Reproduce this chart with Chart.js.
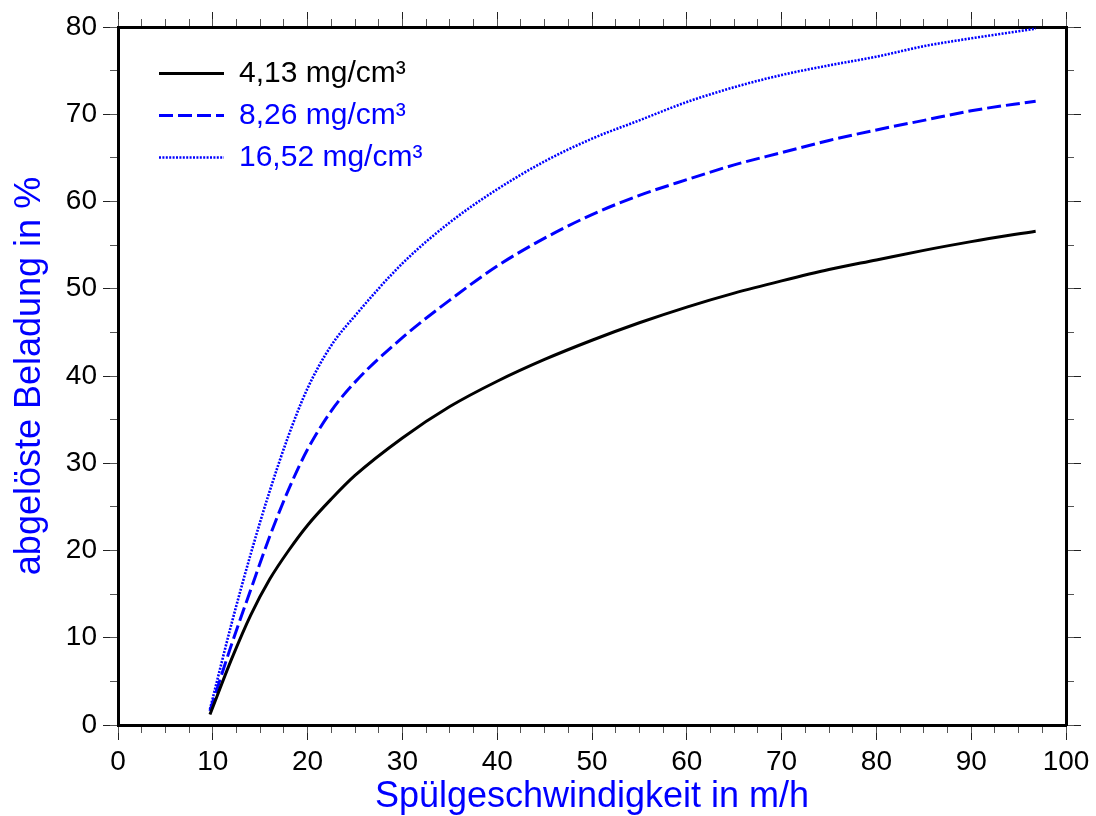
<!DOCTYPE html>
<html>
<head>
<meta charset="utf-8">
<script src="https://cdn.jsdelivr.net/npm/chart.js@4.4.1/dist/chart.umd.min.js"></script>
<style>
  body { margin: 0; background: #fff; }
  canvas { display: block; }
</style>
</head>
<body>
<canvas id="chart" width="1096" height="816"></canvas>
<script>
// values
const speeds   = [9.7, 12, 14, 16, 18, 20, 22.5, 25, 30, 35, 40, 45, 50, 55, 60, 65, 70, 75, 80, 85, 90, 96.8];
const load413  = [1.2, 7.6, 12.6, 16.7, 20.0, 22.9, 25.9, 28.6, 32.9, 36.5, 39.4, 41.9, 44.1, 46.1, 47.9, 49.5, 50.9, 52.2, 53.3, 54.4, 55.4, 56.6];
const load826  = [1.6, 9.3, 15.5, 21.6, 27.0, 31.6, 36.0, 39.3, 44.4, 48.7, 52.6, 55.8, 58.5, 60.7, 62.5, 64.2, 65.6, 67.0, 68.2, 69.3, 70.4, 71.5];
const load1652 = [1.8, 11.7, 19.6, 26.8, 33.2, 38.6, 43.5, 46.9, 52.9, 57.6, 61.4, 64.6, 67.2, 69.3, 71.4, 73.1, 74.5, 75.6, 76.6, 77.8, 78.7, 79.8];
const seriesLabels = ["4,13 mg/cm³", "8,26 mg/cm³", "16,52 mg/cm³"];
const xTitle = "Spülgeschwindigkeit in m/h";
const yTitle = "abgelöste Beladung in %";

const blue = "#0000ff";
const family = "'Liberation Sans', Arial, sans-serif";
const legendSize = 30;

function points(ys) {
  return speeds.map((x, i) => ({ x: x, y: ys[i] }));
}

// one side of the frame; minor axes get zero size so they sit on the chart edge
function frameAxis(position, max, step, tickLength, size, weight, extra) {
  const horizontal = position === "top" || position === "bottom";
  return Object.assign({
    type: "linear",
    position: position,
    min: 0,
    max: max,
    weight: weight,
    afterFit: s => { if (horizontal) s.height = size; else s.width = size; },
    grid: { drawOnChartArea: false, drawTicks: true, tickLength: tickLength, tickColor: weight ? "#222" : "#555", tickWidth: 1 },
    border: { display: weight > 0, color: "#000", width: 3 },
    ticks: { display: false, stepSize: step, maxTicksLimit: 100, autoSkip: false }
  }, extra || {});
}

// put the legend inside the plot, top left
const legendSpot = {
  id: "legendSpot",
  afterLayout(chart) {
    const lg = chart.legend, area = chart.chartArea;
    const pad = lg.options.labels.padding;
    lg.left = area.left + 41 - pad;
    lg.top = area.top + 46.5 - legendSize / 2 - pad;
    lg.right = lg.left + lg.width;
    lg.bottom = lg.top + lg.height;
  }
};

const tickFont = { family: family, size: 28 };
const titleFont = { family: family, size: 36 };

new Chart(document.getElementById("chart"), {
  type: "line",
  data: {
    datasets: [
      { label: seriesLabels[0], data: points(load413), borderColor: "#000000", borderWidth: 3 },
      { label: seriesLabels[1], data: points(load826), borderColor: blue, borderWidth: 3, borderDash: [14, 5] },
      { label: seriesLabels[2], data: points(load1652), borderColor: blue, borderWidth: 2.6, borderDash: [2, 1.4] }
    ]
  },
  options: {
    responsive: false,
    animation: false,
    devicePixelRatio: 1,
    layout: { padding: 0 },
    elements: {
      point: { radius: 0 },
      line: { cubicInterpolationMode: "monotone", fill: false }
    },
    scales: {
      x: frameAxis("bottom", 100, 10, 15, 91, 1, {
        ticks: { display: true, stepSize: 10, padding: 5, color: "#000", font: tickFont, autoSkip: false, maxRotation: 0 },
        title: { display: true, text: xTitle, color: blue, font: titleFont, padding: { top: 0, bottom: -3 } }
      }),
      xMinor: frameAxis("bottom", 100, 2.5, 8, 0, 0),
      xTop: frameAxis("top", 100, 10, 15, 27, 1),
      xTopMinor: frameAxis("top", 100, 2.5, 8, 0, 0),
      y: frameAxis("left", 80, 10, 15, 118, 1, {
        ticks: { display: true, stepSize: 10, padding: 6, color: "#000", font: tickFont, autoSkip: false },
        title: { display: true, text: yTitle, color: blue, font: titleFont, padding: { top: 8, bottom: 0 } }
      }),
      yMinor: frameAxis("left", 80, 5, 8, 0, 0),
      yRight: frameAxis("right", 80, 10, 15, 30, 1),
      yRightMinor: frameAxis("right", 80, 5, 8, 0, 0)
    },
    plugins: {
      tooltip: { enabled: false },
      legend: {
        position: "chartArea",
        align: "start",
        labels: {
          font: { family: family, size: legendSize },
          padding: 12,
          usePointStyle: true,
          pointStyleWidth: 65,
          generateLabels: chart => chart.data.datasets.map((ds, i) => ({
            text: ds.label,
            fontColor: ds.borderColor,
            fillStyle: ds.borderColor,
            strokeStyle: ds.borderColor,
            lineWidth: ds.borderWidth,
            lineDash: ds.borderDash || [],
            lineCap: "butt",
            pointStyle: "line",
            hidden: false,
            datasetIndex: i
          }))
        }
      }
    }
  },
  plugins: [legendSpot]
});
</script>
</body>
</html>
